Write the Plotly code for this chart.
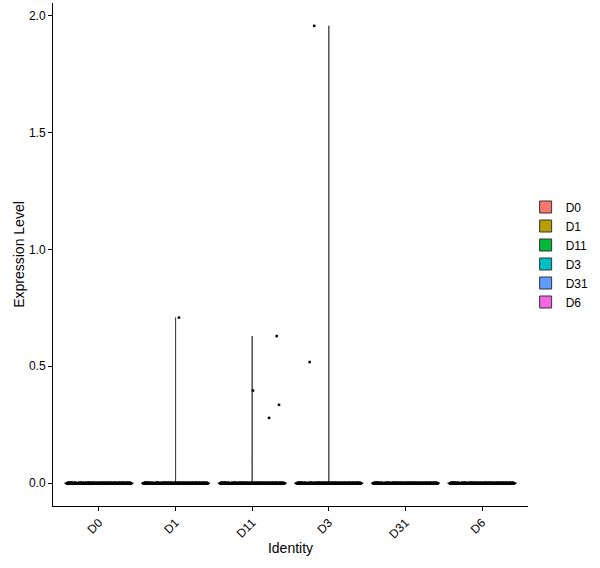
import plotly.graph_objects as go

# ---- data ----
identities = ["D0", "D1", "D11", "D3", "D31", "D6"]
colors = ["#F8766D", "#B79F00", "#00BA38", "#00BFC4", "#619CFF", "#F564E3"]
zero_counts = [600, 600, 600, 600, 600, 600]
nonzero_values = [
    [],
    [0.708],
    [0.629, 0.396, 0.335, 0.279],
    [1.956, 0.518],
    [],
    [],
]
nonzero_jitter = [
    [],
    [0.044],
    [0.32, 0.01, 0.35, 0.22],
    [-0.19, -0.25],
    [],
    [],
]
y_ticks = [0.0, 0.5, 1.0, 1.5, 2.0]

fig = go.Figure()

for i, (name, col) in enumerate(zip(identities, colors)):
    vals = [0.0] * zero_counts[i] + nonzero_values[i]
    vmax = max(max(vals), 0.002)
    fig.add_trace(go.Violin(
        x=[i] * len(vals), y=vals, name=name,
        fillcolor=col, line=dict(color="#333333", width=1),
        width=0.9, bandwidth=0.001, spanmode="manual", span=[0, vmax],
        points=False, scalemode="width", box_visible=False,
        meanline_visible=False, showlegend=True, hoverinfo="skip",
    ))

# zero-valued points, jittered by plotly
for i, name in enumerate(identities):
    fig.add_trace(go.Box(
        x=[i] * zero_counts[i], y=[0.0] * zero_counts[i],
        boxpoints="all", jitter=0.93, pointpos=0, width=0.9,
        fillcolor="rgba(0,0,0,0)", line=dict(width=0, color="rgba(0,0,0,0)"),
        marker=dict(color="black", size=3, line=dict(width=0)),
        showlegend=False, hoverinfo="skip",
    ))

# non-zero points
px, py = [], []
for i in range(len(identities)):
    for v, j in zip(nonzero_values[i], nonzero_jitter[i]):
        px.append(i + j)
        py.append(v)
fig.add_trace(go.Scatter(x=px, y=py, mode="markers",
                         marker=dict(color="black", size=2.5, symbol="square"),
                         showlegend=False, hoverinfo="skip"))

ymax = 1.956
pad = ymax * 0.05
fig.update_layout(
    width=600, height=568,
    margin=dict(l=53, r=72, t=3, b=62),
    paper_bgcolor="white", plot_bgcolor="white",
    violinmode="overlay", boxmode="overlay",
    font=dict(family="Liberation Sans, Arial, sans-serif", color="black", size=11),
    legend=dict(x=0.995, xanchor="left", y=0.5, yanchor="middle",
                font=dict(size=12), tracegroupgap=0, itemclick=False),
    xaxis=dict(range=[-0.6, 5.6], tickvals=list(range(len(identities))),
               ticktext=identities, tickangle=-45, showline=True, linecolor="black",
               linewidth=1, ticks="outside", ticklen=4, tickcolor="black",
               showgrid=False, zeroline=False, tickfont=dict(size=12),
               automargin=False,
               title=dict(text="Identity", font=dict(size=14), standoff=2)),
    yaxis=dict(range=[-pad, ymax + pad], tickvals=y_ticks,
               ticktext=[f"{t:.1f}" for t in y_ticks], showline=True,
               linecolor="black", linewidth=1, ticks="outside", ticklen=4,
               tickcolor="black", showgrid=False, zeroline=False,
               tickfont=dict(size=12), automargin=False,
               title=dict(text="Expression Level", font=dict(size=14), standoff=1)),
)

fig.write_html("out.html", config={"displayModeBar": False},
               post_script="document.body.style.margin='0';document.body.style.padding='0';")
